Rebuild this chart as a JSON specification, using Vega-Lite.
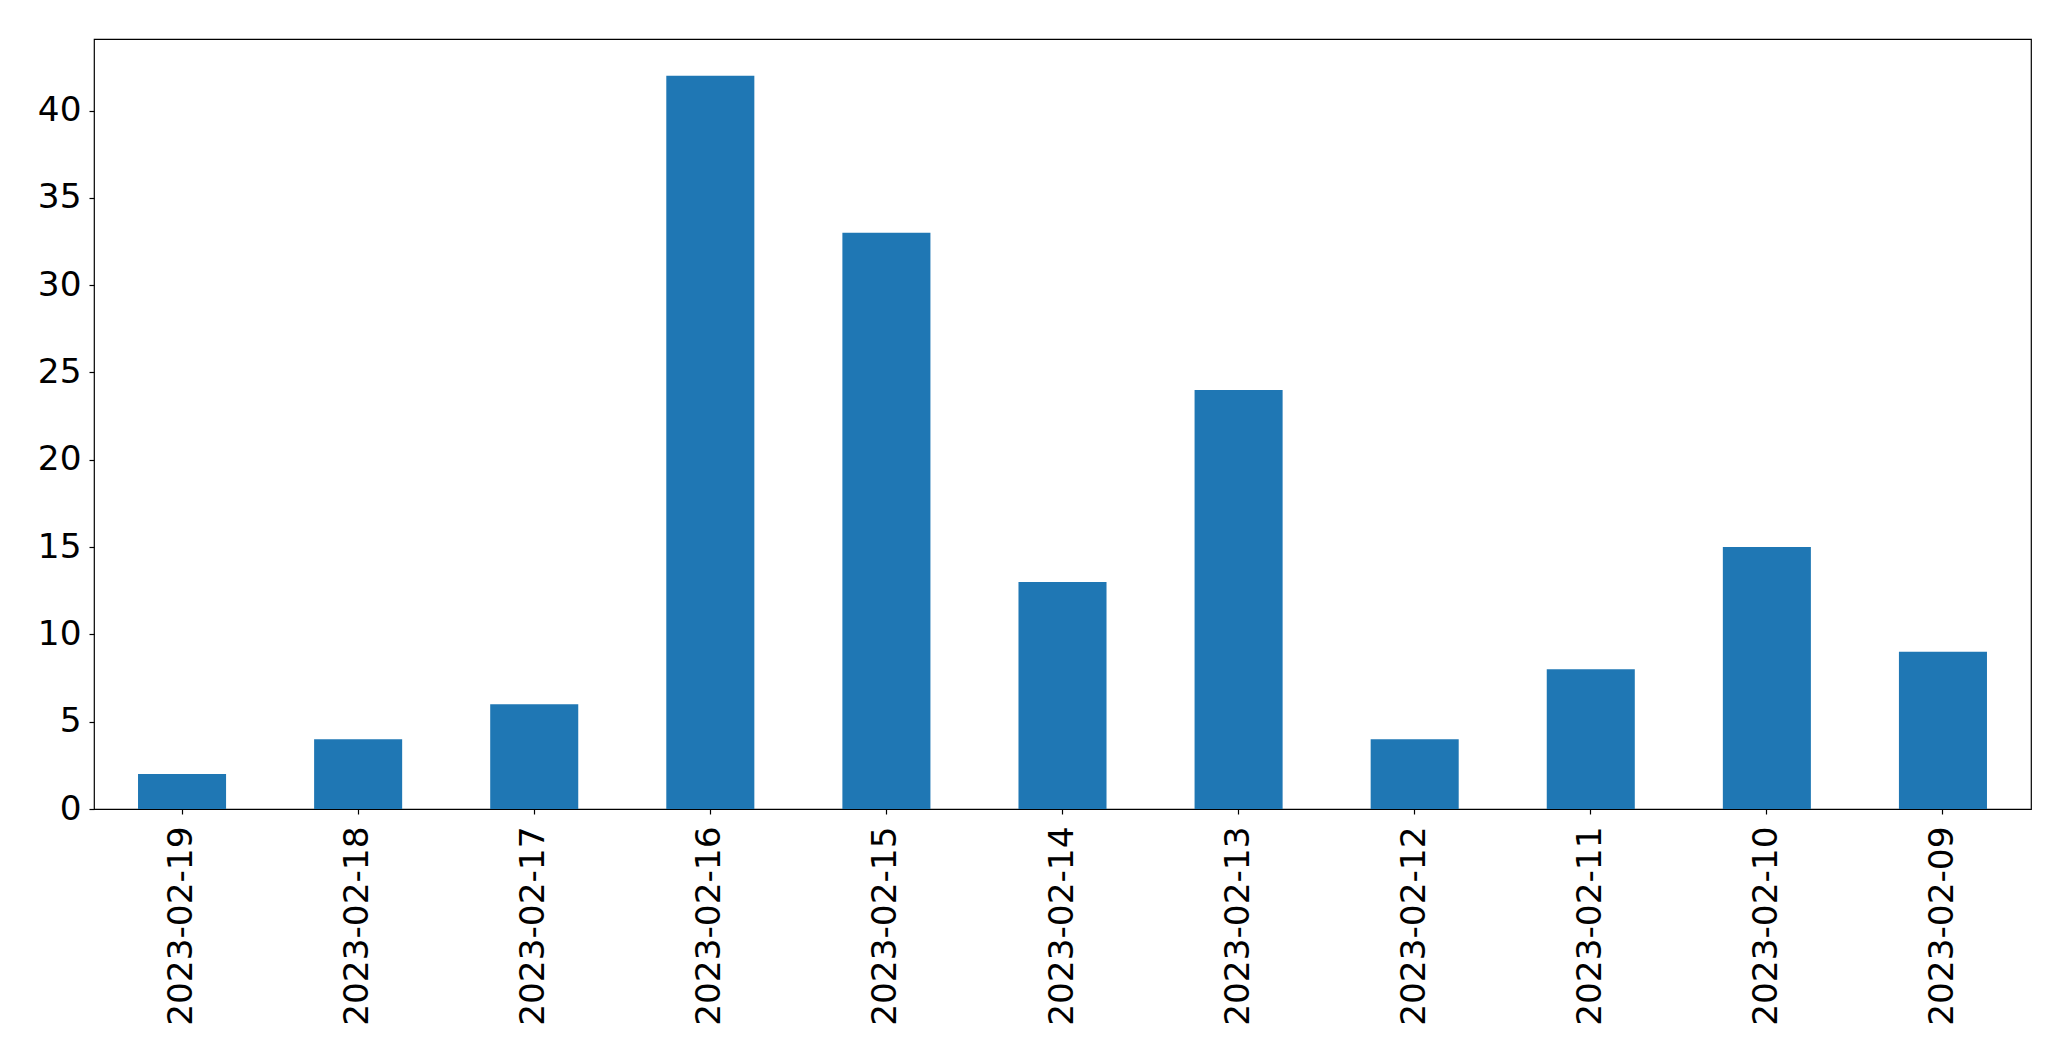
{
  "$schema": "https://vega.github.io/schema/vega-lite/v6.json",
  "width": 1937,
  "height": 770,
  "autosize": {"type": "none"},
  "padding": {"left": 94, "top": 39, "right": 40, "bottom": 252},
  "background": "white",
  "config": {
    "view": {"stroke": "black", "strokeWidth": 1.2},
    "axis": {
      "grid": false,
      "domain": false,
      "tickColor": "black",
      "tickSize": 5,
      "tickWidth": 1.2,
      "labelFont": "DejaVu Sans",
      "labelFontSize": 34.3,
      "labelColor": "black",
      "labelLimit": 0,
      "title": null
    }
  },
  "data": {
    "values": [
      {"date": "2023-02-19", "count": 2},
      {"date": "2023-02-18", "count": 4},
      {"date": "2023-02-17", "count": 6},
      {"date": "2023-02-16", "count": 42},
      {"date": "2023-02-15", "count": 33},
      {"date": "2023-02-14", "count": 13},
      {"date": "2023-02-13", "count": 24},
      {"date": "2023-02-12", "count": 4},
      {"date": "2023-02-11", "count": 8},
      {"date": "2023-02-10", "count": 15},
      {"date": "2023-02-09", "count": 9}
    ]
  },
  "mark": {"type": "bar", "color": "#1f77b4"},
  "encoding": {
    "x": {
      "field": "date",
      "type": "nominal",
      "sort": null,
      "scale": {"paddingInner": 0.5, "paddingOuter": 0.25},
      "axis": {"labelAngle": -90, "labelPadding": 12, "labelAlign": "right", "labelBaseline": "middle"}
    },
    "y": {
      "field": "count",
      "type": "quantitative",
      "scale": {"domain": [0, 44.1], "nice": false},
      "axis": {"values": [0, 5, 10, 15, 20, 25, 30, 35, 40], "labelPadding": 8}
    }
  }
}
